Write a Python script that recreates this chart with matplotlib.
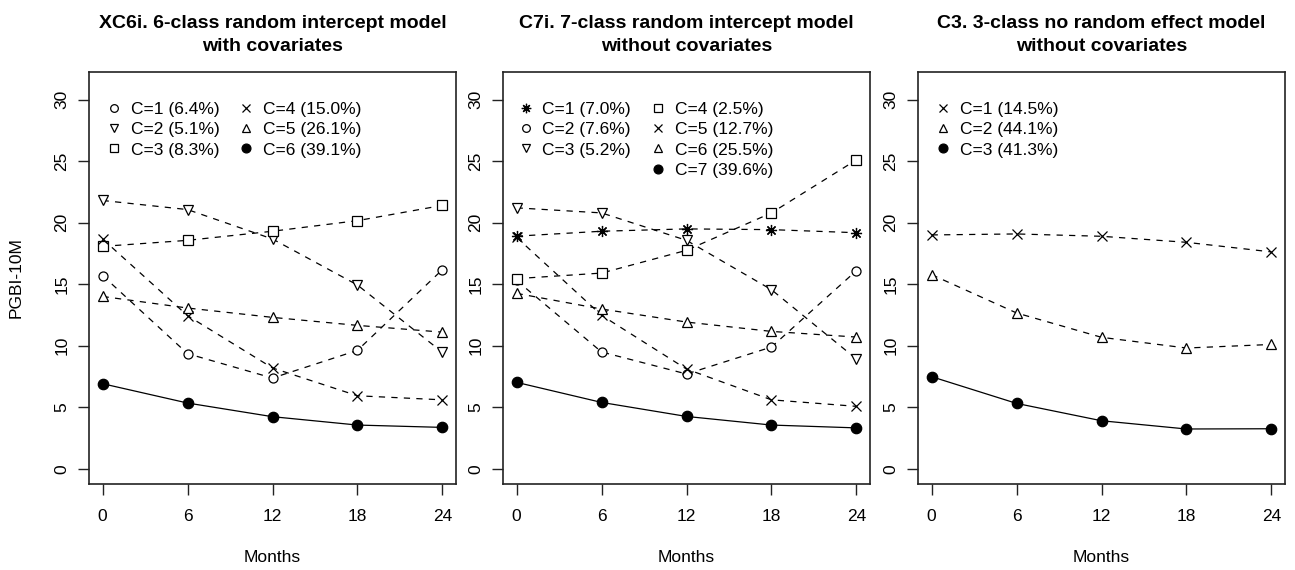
import matplotlib
matplotlib.use('Agg')
import matplotlib.pyplot as plt
from matplotlib.lines import Line2D
from matplotlib.legend import Legend

plt.rcParams['font.family'] = ['Liberation Sans', 'DejaVu Sans']

months = [0, 6, 12, 18, 24]

# XC6i. 6-class random intercept model with covariates
p1_labels = ['C=1 (6.4%)', 'C=2 (5.1%)', 'C=3 (8.3%)',
             'C=4 (15.0%)', 'C=5 (26.1%)', 'C=6 (39.1%)']
p1_c1 = [15.7, 9.35, 7.37, 9.62, 16.18]
p1_c2 = [21.8, 21.06, 18.67, 14.93, 9.46]
p1_c3 = [18.07, 18.56, 19.3, 20.16, 21.4]
p1_c4 = [18.67, 12.44, 8.19, 5.93, 5.6]
p1_c5 = [14.0, 13.06, 12.3, 11.65, 11.1]
p1_c6 = [6.91, 5.34, 4.23, 3.55, 3.36]

# C7i. 7-class random intercept model without covariates
p2_labels = ['C=1 (7.0%)', 'C=2 (7.6%)', 'C=3 (5.2%)', 'C=4 (2.5%)',
             'C=5 (12.7%)', 'C=6 (25.5%)', 'C=7 (39.6%)']
p2_c1 = [18.9, 19.3, 19.49, 19.43, 19.18]
p2_c2 = [15.3, 9.49, 7.7, 9.89, 16.1]
p2_c3 = [21.2, 20.79, 18.56, 14.55, 8.92]
p2_c4 = [15.45, 15.9, 17.75, 20.79, 25.1]
p2_c5 = [18.8, 12.47, 8.1, 5.6, 5.07]
p2_c6 = [14.25, 12.98, 11.92, 11.16, 10.7]
p2_c7 = [7.02, 5.39, 4.25, 3.55, 3.32]

# C3. 3-class no random effect model without covariates
p3_labels = ['C=1 (14.5%)', 'C=2 (44.1%)', 'C=3 (41.3%)']
p3_c1 = [19.0, 19.08, 18.89, 18.4, 17.62]
p3_c2 = [15.77, 12.66, 10.68, 9.81, 10.1]
p3_c3 = [7.48, 5.31, 3.9, 3.23, 3.25]

# R pch symbols -> matplotlib (marker, filled, size)
PCH = {1: ('o', False, 6.5), 6: ('v', False, 7), 0: ('s', False, 6.5),
       4: ('x', False, 7), 2: ('^', False, 7), 19: ('o', True, 7.5),
       8: ((8, 2, 0), False, 8)}

panels = [
    dict(title='XC6i. 6-class random intercept model\nwith covariates',
         series=[p1_c1, p1_c2, p1_c3, p1_c4, p1_c5, p1_c6],
         labels=p1_labels, pch=[1, 6, 0, 4, 2, 19],
         cols=[(0, 3, 0.045), (3, 6, 0.405)], left=89),
    dict(title='C7i. 7-class random intercept model\nwithout covariates',
         series=[p2_c1, p2_c2, p2_c3, p2_c4, p2_c5, p2_c6, p2_c7],
         labels=p2_labels, pch=[8, 1, 6, 0, 4, 2, 19],
         cols=[(0, 3, 0.038), (3, 7, 0.40)], left=503),
    dict(title='C3. 3-class no random effect model\nwithout covariates',
         series=[p3_c1, p3_c2, p3_c3],
         labels=p3_labels, pch=[4, 2, 19],
         cols=[(0, 3, 0.045)], left=918),
]

W, H = 1295, 570
fig = plt.figure(figsize=(W / 100, H / 100), dpi=100)
fig.patch.set_facecolor('white')

def handle(p):
    m, filled, ms = PCH[p]
    return Line2D([], [], linestyle='none', marker=m, markersize=ms * 0.85,
                  color='black', markerfacecolor='black' if filled else 'none',
                  markeredgewidth=0.9)

for i, pn in enumerate(panels):
    ax = fig.add_axes([pn['left'] / W, 86 / H, 367 / W, 412 / H])
    n = len(pn['series'])
    for j, (ys, p) in enumerate(zip(pn['series'], pn['pch'])):
        m, filled, ms = PCH[p]
        last = j == n - 1
        ax.plot(months, ys, color='black', lw=0.9,
                linestyle='-' if last else (0, (5, 5)),
                marker=m, markersize=ms, markeredgewidth=0.9,
                markerfacecolor='black' if filled else 'white')
    ax.set_xlim(-0.96, 24.96)
    ax.set_ylim(-1.24, 32.24)
    ax.set_xticks(months)
    ax.set_yticks([0, 5, 10, 15, 20, 25, 30])
    ax.tick_params(axis='both', direction='out', length=8, width=1.0,
                   labelsize=12.5, color='#222222')
    ax.tick_params(axis='x', pad=10)
    ax.tick_params(axis='y', pad=6)
    for lab in ax.get_yticklabels():
        lab.set_rotation(90)
        lab.set_va('center')
    for s in ax.spines.values():
        s.set_linewidth(1.2)
        s.set_color('#222222')
    ax.set_xlabel('Months', fontsize=12.5, labelpad=19)
    if i == 0:
        ax.set_ylabel('PGBI-10M', fontsize=12.5, labelpad=22)
    ax.set_title(pn['title'], fontsize=14, fontweight='bold',
                 linespacing=1.45, pad=15)

    for (a, b, x0) in pn['cols']:
        hs = [handle(p) for p in pn['pch'][a:b]]
        leg = Legend(ax, hs, pn['labels'][a:b], loc='upper left',
                     bbox_to_anchor=(x0, 0.928), frameon=False,
                     fontsize=12.5, handlelength=1.0, handletextpad=0.45,
                     labelspacing=0.3, borderpad=0, borderaxespad=0)
        ax.add_artist(leg)

fig.savefig('out.png', dpi=100, facecolor='white')
